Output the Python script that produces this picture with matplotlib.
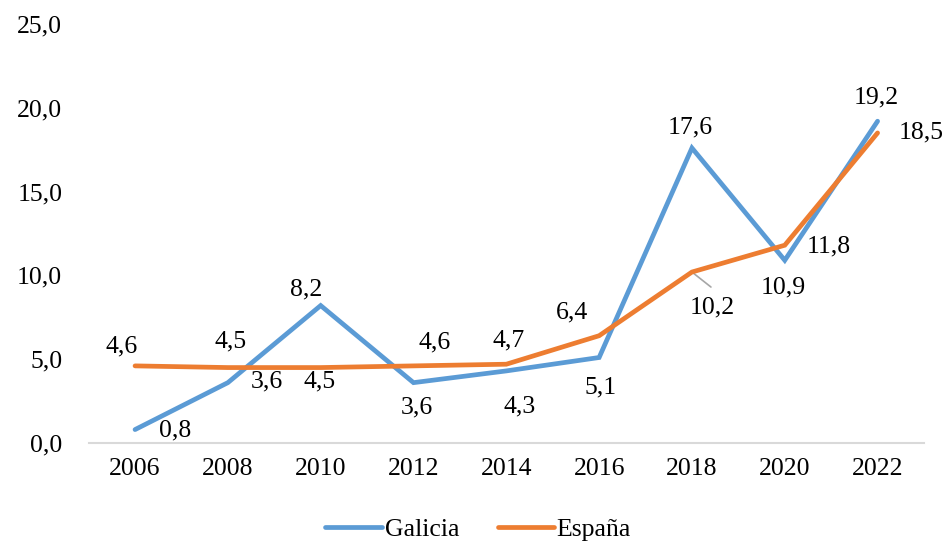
import matplotlib
matplotlib.use("Agg")
import matplotlib.pyplot as plt

years = ["2006", "2008", "2010", "2012", "2014", "2016", "2018", "2020", "2022"]
galicia = [0.8, 3.6, 8.2, 3.6, 4.3, 5.1, 17.6, 10.9, 19.2]
espana = [4.6, 4.5, 4.5, 4.6, 4.7, 6.4, 10.2, 11.8, 18.5]
y_ticks = [0, 5, 10, 15, 20, 25]

# label offsets in pixels (style only)
gal_off = [(40, -1), (39, 1), (-15, 16), (3, -25), (13, -36), (1, -30), (-2, 21), (-2, -27), (-1, 24)]
esp_off = [(-13, 19), (3, 26), (-1, -14), (21, 23), (2, 24), (-27, 23), (20, -35), (44, -1), (44, 0)]

plt.rcParams['font.family'] = ['Liberation Serif', 'DejaVu Serif']
FS = 18.5

fig = plt.figure(figsize=(9.47, 5.44), dpi=100)
ax = fig.add_axes([0.0936, 0.1857, 0.8821, 0.7702])

x = list(range(len(years)))
blue = '#5B9BD5'
orange = '#ED7D31'
ax.plot(x, galicia, color=blue, lw=3.4, solid_capstyle='round', solid_joinstyle='miter', label='Galicia', zorder=3)
ax.plot(x, espana, color=orange, lw=3.4, solid_capstyle='round', solid_joinstyle='miter', label='España', zorder=4)

def fmt(v):
    return f"{v:.1f}".replace('.', ',')

for i, (v, o) in enumerate(zip(galicia, gal_off)):
    ax.annotate(fmt(v), (i, v), xytext=o, textcoords='offset pixels', ha='center', va='center', fontsize=FS, color='black', zorder=6)
for i, (v, o) in enumerate(zip(espana, esp_off)):
    ax.annotate(fmt(v), (i, v), xytext=o, textcoords='offset pixels', ha='center', va='center', fontsize=FS, color='black', zorder=6)

# leader line for 2018 España label
ax.annotate('', (6, espana[6]), xytext=(19, -15), textcoords='offset pixels',
            arrowprops=dict(arrowstyle='-', color='#A6A6A6', lw=1.2, shrinkA=0, shrinkB=0))

ax.set_xlim(-0.5, len(years) - 0.5)
ax.set_ylim(0, 25)
ax.set_yticks(y_ticks)
ax.set_yticklabels([fmt(t) for t in y_ticks], fontsize=FS)
ax.set_xticks(x)
ax.set_xticklabels(years, fontsize=FS)
ax.tick_params(axis='both', length=0)
ax.tick_params(axis='y', pad=19)
ax.tick_params(axis='x', pad=11)
for s in ['top', 'right', 'left']:
    ax.spines[s].set_visible(False)
ax.spines['bottom'].set_color('#D9D9D9')
ax.spines['bottom'].set_linewidth(1.5)

fig.legend(loc='center', bbox_to_anchor=(0.505, 0.026), ncol=2, frameon=False,
           fontsize=FS, handlelength=2.2, handletextpad=0.1, columnspacing=1.5)

fig.savefig('out.png', dpi=100)
